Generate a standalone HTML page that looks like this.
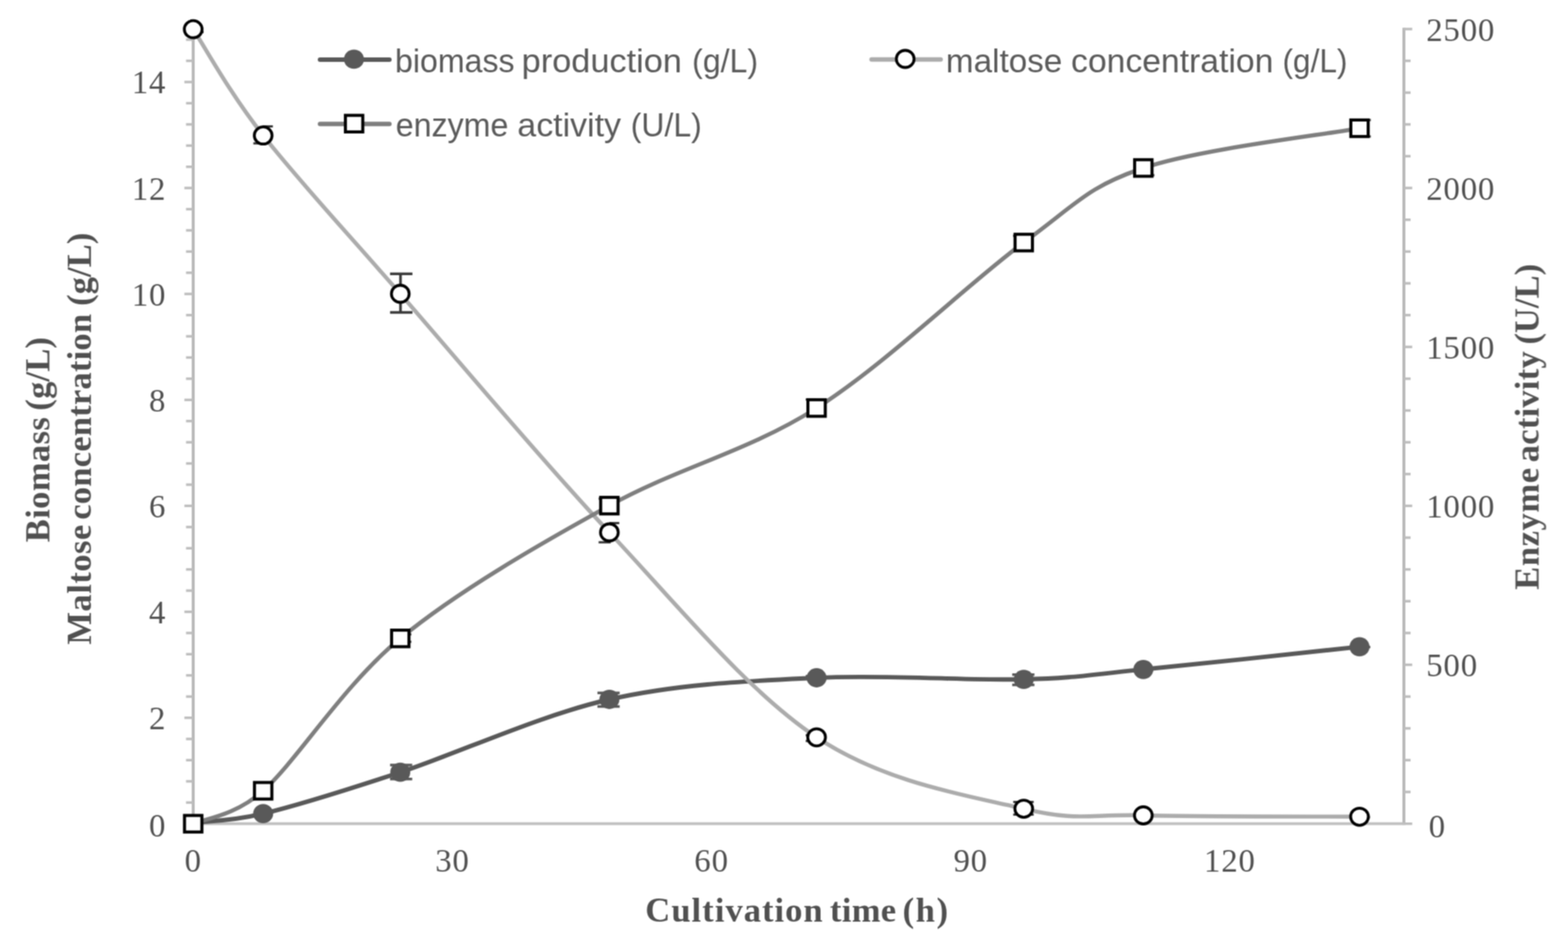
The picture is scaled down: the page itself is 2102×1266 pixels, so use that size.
<!DOCTYPE html>
<html lang="en"><head><meta charset="utf-8"><title>Cultivation time course</title>
<style>
html,body{margin:0;padding:0;background:#fff;}
body{width:2102px;height:1266px;overflow:hidden;}
svg{display:block;}
text{white-space:pre;}
.tk{font-family:"Liberation Serif","DejaVu Serif",serif;font-size:44px;fill:#505050;}
.ax{font-family:"Liberation Serif","DejaVu Serif",serif;font-size:46.4px;font-weight:bold;fill:#505050;}
.lg{font-family:"Liberation Sans","DejaVu Sans",sans-serif;font-size:43.6px;fill:#5a5a5a;}
</style></head><body>
<svg xmlns="http://www.w3.org/2000/svg" width="2102" height="1266" viewBox="0 0 2102 1266">
<defs><filter id="soft" x="0" y="0" width="2102" height="1266" filterUnits="userSpaceOnUse" color-interpolation-filters="sRGB"><feConvolveMatrix order="3" kernelMatrix="1 2 1 2 4 2 1 2 1" edgeMode="duplicate" preserveAlpha="false"/></filter></defs>
<g filter="url(#soft)">
<rect width="2102" height="1266" fill="#ffffff"/>
<g stroke="#b9b9b9" stroke-width="4.0" fill="none" stroke-linecap="butt">
<line x1="259.00" y1="37.35" x2="259.00" y2="1106.30"/>
<line x1="1882.00" y1="37.35" x2="1882.00" y2="1106.30"/>
<line x1="259.00" y1="1104.60" x2="1882.00" y2="1104.60" stroke-width="3.9" stroke="#c0c0c0"/>
</g>
<g stroke="#bdbdbd" stroke-width="3.4" fill="none">
<line x1="247.20" y1="1104.70" x2="259.00" y2="1104.70"/>
<line x1="247.20" y1="962.60" x2="259.00" y2="962.60"/>
<line x1="247.20" y1="820.50" x2="259.00" y2="820.50"/>
<line x1="247.20" y1="678.40" x2="259.00" y2="678.40"/>
<line x1="247.20" y1="536.30" x2="259.00" y2="536.30"/>
<line x1="247.20" y1="394.20" x2="259.00" y2="394.20"/>
<line x1="247.20" y1="252.10" x2="259.00" y2="252.10"/>
<line x1="247.20" y1="110.00" x2="259.00" y2="110.00"/>
<line x1="249.40" y1="1076.28" x2="259.00" y2="1076.28"/>
<line x1="249.40" y1="1047.86" x2="259.00" y2="1047.86"/>
<line x1="249.40" y1="1019.44" x2="259.00" y2="1019.44"/>
<line x1="249.40" y1="991.02" x2="259.00" y2="991.02"/>
<line x1="249.40" y1="934.18" x2="259.00" y2="934.18"/>
<line x1="249.40" y1="905.76" x2="259.00" y2="905.76"/>
<line x1="249.40" y1="877.34" x2="259.00" y2="877.34"/>
<line x1="249.40" y1="848.92" x2="259.00" y2="848.92"/>
<line x1="249.40" y1="792.08" x2="259.00" y2="792.08"/>
<line x1="249.40" y1="763.66" x2="259.00" y2="763.66"/>
<line x1="249.40" y1="735.24" x2="259.00" y2="735.24"/>
<line x1="249.40" y1="706.82" x2="259.00" y2="706.82"/>
<line x1="249.40" y1="649.98" x2="259.00" y2="649.98"/>
<line x1="249.40" y1="621.56" x2="259.00" y2="621.56"/>
<line x1="249.40" y1="593.14" x2="259.00" y2="593.14"/>
<line x1="249.40" y1="564.72" x2="259.00" y2="564.72"/>
<line x1="249.40" y1="507.88" x2="259.00" y2="507.88"/>
<line x1="249.40" y1="479.46" x2="259.00" y2="479.46"/>
<line x1="249.40" y1="451.04" x2="259.00" y2="451.04"/>
<line x1="249.40" y1="422.62" x2="259.00" y2="422.62"/>
<line x1="249.40" y1="365.78" x2="259.00" y2="365.78"/>
<line x1="249.40" y1="337.36" x2="259.00" y2="337.36"/>
<line x1="249.40" y1="308.94" x2="259.00" y2="308.94"/>
<line x1="249.40" y1="280.52" x2="259.00" y2="280.52"/>
<line x1="249.40" y1="223.68" x2="259.00" y2="223.68"/>
<line x1="249.40" y1="195.26" x2="259.00" y2="195.26"/>
<line x1="249.40" y1="166.84" x2="259.00" y2="166.84"/>
<line x1="249.40" y1="138.42" x2="259.00" y2="138.42"/>
<line x1="249.40" y1="81.58" x2="259.00" y2="81.58"/>
<line x1="249.40" y1="53.16" x2="259.00" y2="53.16"/>
<line x1="1882.00" y1="1104.70" x2="1893.20" y2="1104.70"/>
<line x1="1882.00" y1="1062.07" x2="1891.00" y2="1062.07"/>
<line x1="1882.00" y1="1019.44" x2="1891.00" y2="1019.44"/>
<line x1="1882.00" y1="976.81" x2="1891.00" y2="976.81"/>
<line x1="1882.00" y1="934.18" x2="1891.00" y2="934.18"/>
<line x1="1882.00" y1="891.55" x2="1893.20" y2="891.55"/>
<line x1="1882.00" y1="848.92" x2="1891.00" y2="848.92"/>
<line x1="1882.00" y1="806.29" x2="1891.00" y2="806.29"/>
<line x1="1882.00" y1="763.66" x2="1891.00" y2="763.66"/>
<line x1="1882.00" y1="721.03" x2="1891.00" y2="721.03"/>
<line x1="1882.00" y1="678.40" x2="1893.20" y2="678.40"/>
<line x1="1882.00" y1="635.77" x2="1891.00" y2="635.77"/>
<line x1="1882.00" y1="593.14" x2="1891.00" y2="593.14"/>
<line x1="1882.00" y1="550.51" x2="1891.00" y2="550.51"/>
<line x1="1882.00" y1="507.88" x2="1891.00" y2="507.88"/>
<line x1="1882.00" y1="465.25" x2="1893.20" y2="465.25"/>
<line x1="1882.00" y1="422.62" x2="1891.00" y2="422.62"/>
<line x1="1882.00" y1="379.99" x2="1891.00" y2="379.99"/>
<line x1="1882.00" y1="337.36" x2="1891.00" y2="337.36"/>
<line x1="1882.00" y1="294.73" x2="1891.00" y2="294.73"/>
<line x1="1882.00" y1="252.10" x2="1893.20" y2="252.10"/>
<line x1="1882.00" y1="209.47" x2="1891.00" y2="209.47"/>
<line x1="1882.00" y1="166.84" x2="1891.00" y2="166.84"/>
<line x1="1882.00" y1="124.21" x2="1891.00" y2="124.21"/>
<line x1="1882.00" y1="81.58" x2="1891.00" y2="81.58"/>
<line x1="1882.00" y1="38.95" x2="1893.20" y2="38.95"/>
</g>
<line x1="429.0" y1="80.0" x2="522.0" y2="80.0" stroke="#595959" stroke-width="6" stroke-linecap="round"/>
<ellipse cx="474.50" cy="79.40" rx="13.40" ry="12.90" fill="#595959"/>
<line x1="429.0" y1="166.3" x2="522.0" y2="166.3" stroke="#7f7f7f" stroke-width="6" stroke-linecap="round"/>
<rect x="463.05" y="154.70" width="23.30" height="22.20" fill="#fff" stroke="#000" stroke-width="4.1"/>
<line x1="1168.4" y1="79.8" x2="1261.0" y2="79.8" stroke="#acacac" stroke-width="6" stroke-linecap="round"/>
<ellipse cx="1213.50" cy="79.00" rx="11.90" ry="11.50" fill="#fff" stroke="#000" stroke-width="3.8"/>
<path d="M536.90,1025.90 V1044.70 M522.90,1025.90 H552.60 M522.90,1044.70 H552.60" stroke="#595959" stroke-width="3.5" fill="none"/>
<path d="M817.20,929.20 V947.50 M800.90,929.20 H830.70 M800.90,947.50 H830.70" stroke="#595959" stroke-width="3.5" fill="none"/>
<path d="M1080.10,906.60 H1094.70" stroke="#595959" stroke-width="3.0" fill="none"/>
<path d="M1372.70,904.70 V918.60 M1356.90,904.70 H1386.70 M1356.90,918.60 H1386.70" stroke="#595959" stroke-width="3.5" fill="none"/>
<path d="M1532.70,899.00 H1546.10" stroke="#595959" stroke-width="3.0" fill="none"/>
<path d="M1822.50,867.80 H1837.10" stroke="#595959" stroke-width="3.0" fill="none"/>
<path d="M259.00,1103.20 C274.50,1101.22 306.92,1102.35 352.80,1091.20 C399.07,1079.95 459.25,1061.23 536.60,1035.70 C613.95,1010.17 723.88,959.12 816.90,938.00 C909.92,916.88 1002.12,913.48 1094.70,909.00 C1187.28,904.52 1299.40,912.97 1372.40,911.10 C1445.40,909.23 1457.68,905.08 1532.70,897.80 C1607.72,890.52 1774.20,872.47 1822.50,867.40" fill="none" stroke="#595959" stroke-width="5.9" stroke-linecap="round" stroke-linejoin="round"/>
<ellipse cx="352.80" cy="1091.20" rx="13.40" ry="12.90" fill="#595959"/>
<ellipse cx="536.60" cy="1035.70" rx="13.40" ry="12.90" fill="#595959"/>
<ellipse cx="816.90" cy="938.00" rx="13.40" ry="12.90" fill="#595959"/>
<ellipse cx="1094.70" cy="909.00" rx="13.40" ry="12.90" fill="#595959"/>
<ellipse cx="1372.40" cy="911.10" rx="13.40" ry="12.90" fill="#595959"/>
<ellipse cx="1532.70" cy="897.80" rx="13.40" ry="12.90" fill="#595959"/>
<ellipse cx="1822.50" cy="867.40" rx="13.40" ry="12.90" fill="#595959"/>
<path d="M259.00,43.00 H273.00" stroke="#383838" stroke-width="3.0" fill="none"/>
<path d="M352.00,169.60 H365.80 M339.60,192.20 H353.60" stroke="#383838" stroke-width="3.0" fill="none"/>
<path d="M536.90,367.20 V418.90 M522.90,367.20 H552.90 M522.90,418.90 H552.90" stroke="#383838" stroke-width="3.5" fill="none"/>
<path d="M816.90,701.60 H830.20 M802.50,727.30 H818.70" stroke="#383838" stroke-width="3.0" fill="none"/>
<path d="M1080.10,985.90 H1094.70 M1080.10,993.80 H1094.70" stroke="#383838" stroke-width="3.0" fill="none"/>
<path d="M1358.30,1075.50 H1385.70 M1358.30,1092.60 H1385.70" stroke="#383838" stroke-width="3.0" fill="none"/>
<path d="M1532.70,1093.80 H1546.10" stroke="#383838" stroke-width="3.0" fill="none"/>
<path d="M1822.50,1096.00 H1836.50" stroke="#383838" stroke-width="3.0" fill="none"/>
<path d="M259.00,39.20 C274.63,62.95 306.53,122.57 352.80,181.70 C399.07,240.83 459.25,305.28 536.60,394.00 C613.95,482.72 723.88,614.87 816.90,714.00 C909.92,813.13 1002.12,927.03 1094.70,988.80 C1187.28,1050.57 1299.40,1067.15 1372.40,1084.60 C1445.40,1102.05 1457.68,1091.72 1532.70,1093.50 C1607.72,1095.28 1774.20,1095.00 1822.50,1095.30" fill="none" stroke="#acacac" stroke-width="5.4" stroke-linecap="round" stroke-linejoin="round"/>
<ellipse cx="259.00" cy="39.20" rx="11.90" ry="11.50" fill="#fff" stroke="#000" stroke-width="3.8"/>
<ellipse cx="352.80" cy="181.70" rx="11.90" ry="11.50" fill="#fff" stroke="#000" stroke-width="3.8"/>
<ellipse cx="536.60" cy="394.00" rx="11.90" ry="11.50" fill="#fff" stroke="#000" stroke-width="3.8"/>
<ellipse cx="816.90" cy="714.00" rx="11.90" ry="11.50" fill="#fff" stroke="#000" stroke-width="3.8"/>
<ellipse cx="1094.70" cy="988.80" rx="11.90" ry="11.50" fill="#fff" stroke="#000" stroke-width="3.8"/>
<ellipse cx="1372.40" cy="1084.60" rx="11.90" ry="11.50" fill="#fff" stroke="#000" stroke-width="3.8"/>
<ellipse cx="1532.70" cy="1093.50" rx="11.90" ry="11.50" fill="#fff" stroke="#000" stroke-width="3.8"/>
<ellipse cx="1822.50" cy="1095.30" rx="11.90" ry="11.50" fill="#fff" stroke="#000" stroke-width="3.8"/>
<path d="M536.60,850.80 H551.40 M536.60,860.80 H551.40" stroke="#383838" stroke-width="3.0" fill="none"/>
<path d="M802.50,668.80 H816.90" stroke="#383838" stroke-width="3.0" fill="none"/>
<path d="M1080.10,535.80 H1094.70" stroke="#383838" stroke-width="3.0" fill="none"/>
<path d="M1358.10,316.20 H1372.40" stroke="#383838" stroke-width="3.0" fill="none"/>
<path d="M1532.70,235.00 H1547.50" stroke="#383838" stroke-width="3.0" fill="none"/>
<path d="M1809.20,161.00 H1837.60 M1809.20,183.00 H1837.60" stroke="#383838" stroke-width="3.0" fill="none"/>
<path d="M259.00,1104.70 C271.93,1098.61 314.54,1094.75 352.80,1060.50 C399.07,1019.08 459.25,919.93 536.60,856.20 C613.95,792.47 723.88,729.60 816.90,678.10 C909.92,626.60 1002.12,606.00 1094.70,547.20 C1187.28,488.40 1299.40,378.95 1372.40,325.30 C1445.40,271.65 1457.68,250.85 1532.70,225.30 C1607.72,199.75 1774.20,180.88 1822.50,172.00" fill="none" stroke="#7f7f7f" stroke-width="5.5" stroke-linecap="round" stroke-linejoin="round"/>
<rect x="247.35" y="1093.60" width="23.30" height="22.20" fill="#fff" stroke="#000" stroke-width="4.1"/>
<rect x="341.15" y="1049.40" width="23.30" height="22.20" fill="#fff" stroke="#000" stroke-width="4.1"/>
<rect x="524.95" y="845.10" width="23.30" height="22.20" fill="#fff" stroke="#000" stroke-width="4.1"/>
<rect x="805.25" y="667.00" width="23.30" height="22.20" fill="#fff" stroke="#000" stroke-width="4.1"/>
<rect x="1083.05" y="536.10" width="23.30" height="22.20" fill="#fff" stroke="#000" stroke-width="4.1"/>
<rect x="1360.75" y="314.20" width="23.30" height="22.20" fill="#fff" stroke="#000" stroke-width="4.1"/>
<rect x="1521.05" y="214.20" width="23.30" height="22.20" fill="#fff" stroke="#000" stroke-width="4.1"/>
<rect x="1810.85" y="160.90" width="23.30" height="22.20" fill="#fff" stroke="#000" stroke-width="4.1"/>
</g>
<g filter="url(#soft)">
<text class="tk" x="199.80" y="1122.30" style="letter-spacing:1.10px">0</text>
<text class="tk" x="199.80" y="978.00" style="letter-spacing:1.10px">2</text>
<text class="tk" x="199.80" y="835.90" style="letter-spacing:1.10px">4</text>
<text class="tk" x="199.80" y="693.80" style="letter-spacing:1.10px">6</text>
<text class="tk" x="199.80" y="551.70" style="letter-spacing:1.10px">8</text>
<text class="tk" x="176.70" y="409.60" style="letter-spacing:1.10px">10</text>
<text class="tk" x="176.70" y="267.50" style="letter-spacing:1.10px">12</text>
<text class="tk" x="176.70" y="125.40" style="letter-spacing:1.10px">14</text>
<text class="tk" x="1915.30" y="1122.60" style="letter-spacing:1.10px">0</text>
<text class="tk" x="1912.00" y="907.25" style="letter-spacing:1.10px">500</text>
<text class="tk" x="1912.00" y="694.10" style="letter-spacing:1.10px">1000</text>
<text class="tk" x="1912.00" y="480.95" style="letter-spacing:1.10px">1500</text>
<text class="tk" x="1912.00" y="267.80" style="letter-spacing:1.10px">2000</text>
<text class="tk" x="1912.00" y="54.65" style="letter-spacing:1.10px">2500</text>
<text class="tk" x="247.60" y="1169.20" style="letter-spacing:1.10px">0</text>
<text class="tk" x="583.45" y="1169.20" style="letter-spacing:1.10px">30</text>
<text class="tk" x="930.85" y="1169.20" style="letter-spacing:1.10px">60</text>
<text class="tk" x="1278.25" y="1169.20" style="letter-spacing:1.10px">90</text>
<text class="tk" x="1614.10" y="1169.20" style="letter-spacing:1.10px">120</text>
<text class="ax" y="1235.50"><tspan x="865.10" textLength="237.77" lengthAdjust="spacing">Cultivation</tspan> <tspan x="1112.50" textLength="88.88" lengthAdjust="spacing">time</tspan> <tspan x="1210.10" textLength="60.80" lengthAdjust="spacing">(h)</tspan></text>
<text class="ax" transform="translate(66.20,0) rotate(-90)" y="0"><tspan x="-727.20" textLength="167.68" lengthAdjust="spacing">Biomass</tspan> <tspan x="-550.80" textLength="98.84" lengthAdjust="spacing">(g/L)</tspan></text>
<text class="ax" transform="translate(121.90,0) rotate(-90)" y="0"><tspan x="-864.60" textLength="160.87" lengthAdjust="spacing">Maltose</tspan> <tspan x="-697.00" textLength="276.04" lengthAdjust="spacing">concentration</tspan> <tspan x="-410.30" textLength="98.14" lengthAdjust="spacing">(g/L)</tspan></text>
<text class="ax" transform="translate(2062.60,0) rotate(-90)" y="0"><tspan x="-791.00" textLength="163.47" lengthAdjust="spacing">Enzyme</tspan> <tspan x="-619.90" textLength="148.76" lengthAdjust="spacing">activity</tspan> <tspan x="-462.10" textLength="108.23" lengthAdjust="spacing">(U/L)</tspan></text>
<text class="lg" y="96.90"><tspan x="529.49" textLength="160.42" lengthAdjust="spacingAndGlyphs">biomass</tspan> <tspan x="699.33" textLength="214.90" lengthAdjust="spacingAndGlyphs">production</tspan> <tspan x="927.84" textLength="88.37" lengthAdjust="spacingAndGlyphs">(g/L)</tspan></text>
<text class="lg" y="183.40"><tspan x="530.42" textLength="151.22" lengthAdjust="spacingAndGlyphs">enzyme</tspan> <tspan x="693.61" textLength="138.93" lengthAdjust="spacingAndGlyphs">activity</tspan> <tspan x="845.54" textLength="95.39" lengthAdjust="spacingAndGlyphs">(U/L)</tspan></text>
<text class="lg" y="96.90"><tspan x="1268.13" textLength="155.97" lengthAdjust="spacingAndGlyphs">maltose</tspan> <tspan x="1435.83" textLength="271.21" lengthAdjust="spacingAndGlyphs">concentration</tspan> <tspan x="1719.27" textLength="86.99" lengthAdjust="spacingAndGlyphs">(g/L)</tspan></text>
</g>
</svg>
</body></html>
